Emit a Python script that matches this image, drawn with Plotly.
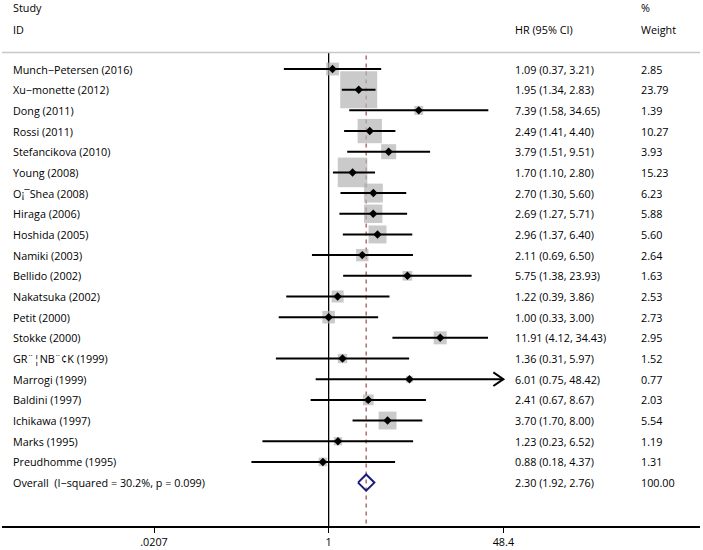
import math
import plotly.graph_objects as go

studies = ["Munch−Petersen (2016)", "Xu−monette (2012)", "Dong (2011)", "Rossi (2011)",
           "Stefancikova (2010)", "Young (2008)", "O¡¯Shea (2008)", "Hiraga (2006)",
           "Hoshida (2005)", "Namiki (2003)", "Bellido (2002)", "Nakatsuka (2002)",
           "Petit (2000)", "Stokke (2000)", "GR¨¦NB¨¢K (1999)", "Marrogi (1999)",
           "Baldini (1997)", "Ichikawa (1997)", "Marks (1995)", "Preudhomme (1995)"]
hr = [1.09, 1.95, 7.39, 2.49, 3.79, 1.70, 2.70, 2.69, 2.96, 2.11, 5.75, 1.22, 1.00, 11.91,
      1.36, 6.01, 2.41, 3.70, 1.23, 0.88]
lo = [0.37, 1.34, 1.58, 1.41, 1.51, 1.10, 1.30, 1.27, 1.37, 0.69, 1.38, 0.39, 0.33, 4.12,
      0.31, 0.75, 0.67, 1.70, 0.23, 0.18]
hi = [3.21, 2.83, 34.65, 4.40, 9.51, 2.80, 5.60, 5.71, 6.40, 6.50, 23.93, 3.86, 3.00, 34.43,
      5.97, 48.42, 8.67, 8.00, 6.52, 4.37]
weight = [2.85, 23.79, 1.39, 10.27, 3.93, 15.23, 6.23, 5.88, 5.60, 2.64, 1.63, 2.53, 2.73,
          2.95, 1.52, 0.77, 2.03, 5.54, 1.19, 1.31]
overall_label = "Overall  (I−squared = 30.2%, p = 0.099)"
overall_hr, overall_lo, overall_hi, overall_w = 2.30, 1.92, 2.76, 100.00
tick_vals = [0.0207, 1, 48.4]
tick_text = [".0207", "1", "48.4"]

W, H = 703, 550
ML, MR, MT, MB = 2, 3, 0, 24
PX_PER_DEC = 103.7
X_ONE = 328.65
xr = [(ML - X_ONE) / PX_PER_DEC, (W - MR - X_ONE) / PX_PER_DEC]
ROW0, ROWH = 69, 20.68
y_bottom = (H - MB - ROW0) / ROWH
y_top = (MT - ROW0) / ROWH
xmax = tick_vals[-1]

n = len(studies)
rows = list(range(n))
overall_row = n

def px(xp):
    return (xp - ML) / (W - ML - MR)

fig = go.Figure()

# reference lines
fig.add_trace(go.Scatter(x=[1, 1], y=[-0.8, y_bottom], mode="lines",
                         line=dict(color="black", width=1.3), hoverinfo="skip"))
fig.add_trace(go.Scatter(x=[overall_hr, overall_hr], y=[-0.65, y_bottom], mode="lines",
                         line=dict(color="#9b4a4a", width=1.2, dash="4px,4px"), hoverinfo="skip"))

# weight boxes
box_sizes = [37 * math.sqrt(w / max(weight)) for w in weight]
fig.add_trace(go.Scatter(x=hr, y=rows, mode="markers",
                         marker=dict(symbol="square", size=box_sizes, color="#b3b3b3",
                                     line=dict(width=0)), hoverinfo="skip"))

# CI lines
cx, cy = [], []
for i in rows:
    cx += [lo[i], min(hi[i], xmax), None]
    cy += [i, i, None]
fig.add_trace(go.Scatter(x=cx, y=cy, mode="lines", line=dict(color="black", width=2),
                         hoverinfo="skip"))

# arrows for truncated CIs
k = 10 ** (10 / PX_PER_DEC)
for i in rows:
    if hi[i] > xmax:
        fig.add_trace(go.Scatter(x=[xmax / k, xmax, xmax / k], y=[i - 0.33, i, i + 0.33],
                                 mode="lines", line=dict(color="black", width=2),
                                 hoverinfo="skip"))

# point estimates
fig.add_trace(go.Scatter(x=hr, y=rows, mode="markers",
                         marker=dict(symbol="diamond", size=6.5, color="black"),
                         hoverinfo="skip"))

# overall diamond
dh = 0.39
fig.add_trace(go.Scatter(x=[overall_lo, overall_hr, overall_hi, overall_hr, overall_lo],
                         y=[overall_row, overall_row - dh, overall_row, overall_row + dh, overall_row],
                         mode="lines", line=dict(color="#1a1a7a", width=2),
                         hoverinfo="skip"))

font = dict(family="Open Sans", size=10.8, color="black")
ann = []
def txt(xp, y, s):
    ann.append(dict(x=px(xp), xref="paper", y=y, yref="y", text=s, showarrow=False,
                    xanchor="left", yanchor="middle", font=font))

X_STUDY, X_HR, X_W = 11, 513, 639
txt(X_STUDY, -2.95, "Study")
txt(X_STUDY, -1.93, "ID")
txt(X_HR, -1.93, "HR (95% CI)")
txt(X_W, -2.95, "%")
txt(X_W, -1.93, "Weight")
for i in rows:
    txt(X_STUDY, i, studies[i])
    txt(X_HR, i, f"{hr[i]:.2f} ({lo[i]:.2f}, {hi[i]:.2f})")
    txt(X_W, i, f"{weight[i]:.2f}")
txt(X_STUDY, overall_row, overall_label)
txt(X_HR, overall_row, f"{overall_hr:.2f} ({overall_lo:.2f}, {overall_hi:.2f})")
txt(X_W, overall_row, f"{overall_w:.2f}")

shapes = [dict(type="line", xref="paper", yref="y", x0=0, x1=1, y0=-0.8, y1=-0.8,
               line=dict(color="#c8c8c8", width=1.5))]

fig.update_layout(
    width=W, height=H, margin=dict(l=ML, r=MR, t=MT, b=MB),
    paper_bgcolor="white", plot_bgcolor="white", showlegend=False,
    annotations=ann, shapes=shapes,
    xaxis=dict(type="log", range=xr, showgrid=False, zeroline=False,
               showline=True, linecolor="black", linewidth=1.5,
               ticks="outside", ticklen=5, tickcolor="black", tickwidth=1.2,
               tickvals=tick_vals, ticktext=tick_text,
               tickfont=dict(family="Open Sans", size=10.8, color="black")),
    yaxis=dict(range=[y_bottom, y_top], visible=False, showgrid=False, zeroline=False),
)

fig.write_html("out.html", config={"displayModeBar": False},
               post_script="document.body.style.margin='0';")
